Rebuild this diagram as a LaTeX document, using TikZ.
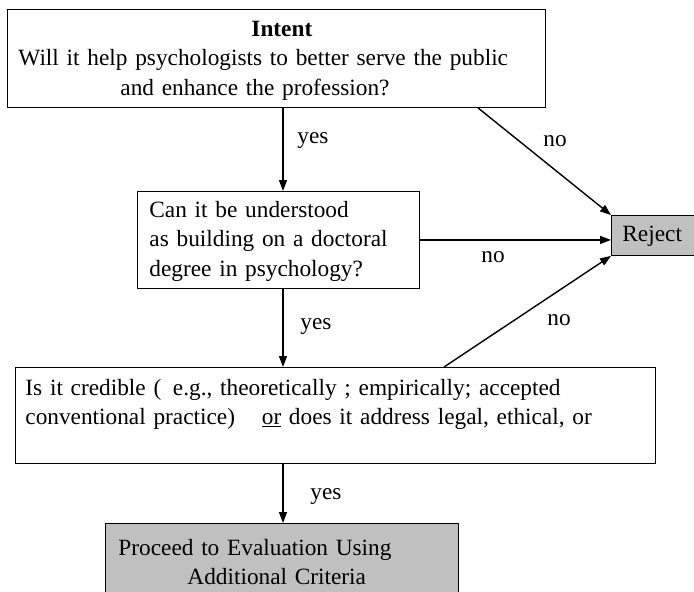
\documentclass[tikz,border=0pt]{standalone}
\usepackage{fontspec}
\setmainfont{Liberation Serif}
\usetikzlibrary{arrows.meta}
\definecolor{boxgray}{HTML}{C0C0C0}
\tikzset{
  box/.style={draw=black, line width=0.9pt, rectangle, anchor=north west,
    inner ysep=0pt, align=left, font=\fontsize{23.3}{29.5}\selectfont},
  grayfill/.style={fill=boxgray},
  conn/.style={draw=black, line width=1.4pt, -{Triangle[length=11pt,width=8pt]}},
  lbl/.style={font=\fontsize{23.3}{29}\selectfont, inner sep=0pt}
}
\begin{document}
\begin{tikzpicture}[x=1pt, y=-1pt]
\clip (0,0) rectangle (694,592);
\fill[white] (0,0) rectangle (694,592);

% boxes
\node[box, inner xsep=11pt, text width=516pt, text height=27pt, text depth=71pt] (intent) at (7,9)
  {\hspace*{233pt}\textbf{Intent}\\
   Will it help psychologists to better serve the public\\
   \hspace*{102pt}and enhance the profession?};

\node[box, inner xsep=12pt, text width=258pt, text height=26pt, text depth=71pt] (build) at (137,191)
  {Can it be understood\\
   as building on a doctoral\\
   degree in psychology?};

\node[box, grayfill, inner xsep=11pt, text width=80pt, text height=26pt, text depth=14pt] (reject) at (611,215)
  {Reject};

\node[box, inner xsep=10pt, text width=620pt, text height=28pt, text depth=68pt] (cred) at (15,367)
  {Is it credible (~\,e.g., theoretically ; empirically; accepted\\
   conventional practice)\hspace{19pt} \underline{or} does it address legal, ethical, or};

\node[box, grayfill, inner xsep=13pt, text width=327pt, text height=32pt, text depth=55pt] (proceed) at (105,523)
  {Proceed to Evaluation Using\\
   \hspace*{69pt}Additional Criteria};

% guide coordinates
\coordinate (spine) at (283,0);
\coordinate (d1) at (478,0);
\coordinate (d3) at (444,0);

% connectors
\draw[conn] (intent.south -| spine) -- (build.north -| spine);
\draw[conn] (intent.south -| d1) -- (reject.north west);
\draw[conn] (build.east) -- (reject.west |- build.east);
\draw[conn] (build.south -| spine) -- (cred.north -| spine);
\draw[conn] (cred.north -| d3) -- (reject.south west);
\draw[conn] (cred.south -| spine) -- (proceed.north -| spine);

% labels
\node[lbl] (yes1) at (313,141) {yes};
\node[lbl] (yes2) at (316,327) {yes};
\node[lbl] (yes3) at (326,497) {yes};
\node[lbl] (no1) at (555,141) {no};
\node[lbl] (no2) at (493,257) {no};
\node[lbl] (no3) at (559,320) {no};
\end{tikzpicture}
\end{document}
